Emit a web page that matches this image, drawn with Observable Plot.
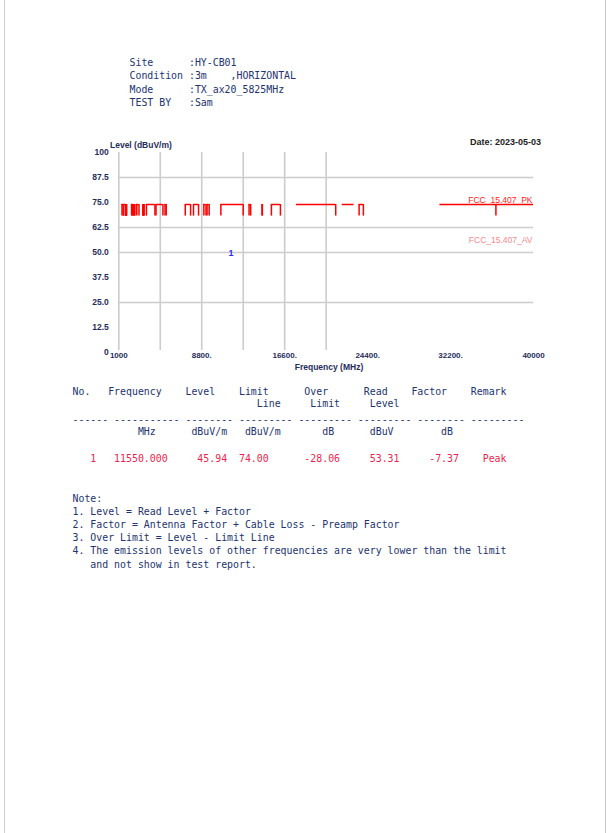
<!DOCTYPE html>
<html>
<head>
<meta charset="utf-8">
<script src="https://cdn.jsdelivr.net/npm/d3@7"></script>
<script src="https://cdn.jsdelivr.net/npm/@observablehq/plot@0.6"></script>
<style>
  html, body { margin: 0; padding: 0; background: #fff; }
  #page { position: relative; width: 614px; height: 833px; overflow: hidden; background: #fff; }
  .frameL { position: absolute; left: 4px; top: 0; width: 1px; height: 833px; background: #cfcfcf; }
  .frameR { position: absolute; left: 605px; top: 0; width: 1px; height: 833px; background: #c8c8c8; }
  .mono { position: absolute; font-family: "DejaVu Sans Mono", "Liberation Mono", monospace; font-size: 9.9px; white-space: pre; color: #22336e; margin: 0; }
  .lab { position: absolute; font-family: "Liberation Sans", Arial, sans-serif; font-weight: bold; white-space: nowrap; line-height: 10px; }
  #chart { position: absolute; left: 0; top: 130px; }
</style>
</head>
<body>
<div id="page">
  <div class="frameL"></div>
  <div class="frameR"></div>
  <div id="header"></div>
  <div id="chart"></div>
  <div class="lab" id="ylab" style="left:110px; top:140px; font-size:8.5px; color:#1f2d5c;"></div>
  <div class="lab" id="datelab" style="right:73px; top:137px; font-size:9px; color:#222;"></div>
  <div class="lab" id="xlab" style="left:290px; top:361.5px; width:78px; text-align:center; font-size:8.5px; color:#1f2d5c;"></div>
  <div id="table"></div>
  <div id="notes"></div>
</div>
<script>
// ---------- data ----------
const headerKeys = ["Site", "Condition", "Mode", "TEST BY"];
const headerValues = ["HY-CB01", "3m    ,HORIZONTAL", "TX_ax20_5825MHz", "Sam"];

const yTicks = [0, 12.5, 25, 37.5, 50, 62.5, 75, 87.5, 100];
const yTickLabels = ["0", "12.5", "25.0", "37.5", "50.0", "62.5", "75.0", "87.5", "100"];
const xTicks = [1000, 8800, 16600, 24400, 32200, 40000];
const xTickLabels = ["1000", "8800.", "16600.", "24400.", "32200.", "40000"];
const gridX = [1000, 4900, 8800, 12700, 16600, 20500];
const gridY = [87.5, 62.5, 50, 25];

const yTitle = "Level (dBuV/m)";
const xTitle = "Frequency (MHz)";
const dateText = "Date: 2023-05-03";

const peakLimit = 74;
const stepLimit = 68.2;
const avLimitLabelLevel = 54;
const limitSegments = [
  [1300, 1427], [1435, 1626.5], [1645.5, 1646.5], [1660, 1710], [1718.8, 1722.2],
  [2200, 2300], [2310, 2390], [2483.5, 2500], [2690, 2900], [3260, 3267],
  [3332, 3339], [3345.8, 3358], [3600, 4400], [4500, 5150], [5350, 5460],
  [7250, 7750], [8025, 8500], [9000, 9200], [9300, 9500], [10600, 12700],
  [13250, 13400], [14470, 14500], [15350, 16200], [17700, 21400], [22010, 23120],
  [23600, 24000], [31200, 40000]
];
const limitDrops = [
  1300, 1427, 1435, 1626.5, 1645.5, 1646.5, 1660, 1710, 1718.8, 1722.2,
  2200, 2300, 2310, 2390, 2483.5, 2500, 2690, 2900, 3260, 3267,
  3332, 3339, 3345.8, 3358, 3600, 4400, 4500, 5150, 5350, 5460,
  7250, 7750, 8025, 8500, 9000, 9200, 9300, 9500, 10600, 12700,
  13250, 13400, 14470, 14500, 15350, 16200, 21400, 23600, 24000, 36465
];
const limitNames = ["FCC_15.407_PK", "FCC_15.407_AV"];

const markerNo = [1];
const markerFreq = [11550];
const markerLevel = [45.94];

const tableHead1 = ["No.", "Frequency", "Level", "Limit", "Over", "Read", "Factor", "Remark"];
const tableHead2 = ["Line", "Limit", "Level"];
const tableUnits = ["MHz", "dBuV/m", "dBuV/m", "dB", "dBuV", "dB"];
const rowValues = ["1", "11550.000", "45.94", "74.00", "-28.06", "53.31", "-7.37", "Peak"];
const dashWidths = [6, 11, 8, 9, 9, 9, 8, 9];

const noteLines = [
  "Note:",
  "1. Level = Read Level + Factor",
  "2. Factor = Antenna Factor + Cable Loss - Preamp Factor",
  "3. Over Limit = Level - Limit Line",
  "4. The emission levels of other frequencies are very lower than the limit",
  "   and not show in test report."
];

// ---------- layout helpers ----------
function placeCols(items, cols) {
  let s = "";
  items.forEach((t, i) => {
    const c = cols[i];
    if (s.length < c) s += " ".repeat(c - s.length);
    s += t;
  });
  return s;
}
function addLine(parent, text, left, baseline, color) {
  const d = document.createElement("div");
  d.className = "mono";
  d.style.left = left + "px";
  d.style.top = (baseline - 9.4) + "px";
  d.style.lineHeight = "12px";
  if (color) d.style.color = color;
  d.textContent = text;
  parent.appendChild(d);
}

// header block
const header = document.getElementById("header");
headerKeys.forEach((k, i) => {
  addLine(header, k.padEnd(10, " ") + ":" + headerValues[i], 129.5, 66.7 + 13.1 * i);
});

// table
const table = document.getElementById("table");
addLine(table, placeCols(tableHead1, [0, 6, 19, 28, 39, 49, 57, 67]), 72.5, 395);
addLine(table, placeCols(tableHead2, [31, 40, 50]), 72.5, 407);
addLine(table, dashWidths.map(w => "-".repeat(w)).join(" "), 72.5, 423);
addLine(table, placeCols(tableUnits, [11, 20, 29, 42, 50, 62]), 72.5, 435);
addLine(table, placeCols(rowValues, [3, 7, 21, 28, 39, 50, 60, 69]), 72.5, 462, "#ec1f4f");

// notes
const notes = document.getElementById("notes");
noteLines.forEach((t, i) => addLine(notes, t, 72.5, 502 + 13.2 * i));

document.getElementById("ylab").textContent = yTitle;
document.getElementById("xlab").textContent = xTitle;
document.getElementById("datelab").textContent = dateText;

// ---------- chart ----------
const markers = markerNo.map((n, i) => ({no: String(n), freq: markerFreq[i], level: markerLevel[i]}));
const limitLabels = [
  {name: limitNames[0], level: peakLimit, color: "#ff1a1a"},
  {name: limitNames[1], level: avLimitLabelLevel, color: "#f38a8a"}
];

const chart = Plot.plot({
  width: 560,
  height: 240,
  marginLeft: 118.3,
  marginRight: 27,
  marginTop: 22,
  marginBottom: 18,
  x: {domain: [1000, 40000]},
  y: {domain: [0, 100]},
  style: {background: "transparent", fontFamily: "Liberation Sans, Arial, sans-serif", fontSize: "8.5px", fontWeight: "bold", color: "#1f2d5c", overflow: "visible"},
  marks: [
    Plot.ruleX(gridX, {x: d => d, y1: 1, y2: 100, stroke: "#cccccc", strokeWidth: 1.6}),
    Plot.ruleY(gridY, {y: d => d, stroke: "#cccccc", strokeWidth: 1.6}),
    Plot.ruleY(limitSegments, {y: peakLimit, x1: d => d[0], x2: d => d[1], stroke: "#ff0000", strokeWidth: 1.5}),
    Plot.ruleX(limitDrops, {x: d => d, y1: stepLimit, y2: peakLimit, stroke: "#ff0000", strokeWidth: 1.5}),
    Plot.text(limitLabels, {x: 40000, y: "level", text: "name", fill: "color", textAnchor: "end", lineAnchor: "bottom", dy: -2, dx: -1, fontWeight: "normal", fontSize: 8.5}),
    Plot.text(markers, {x: "freq", y: "level", text: "no", fill: "#2a2aff", dy: -8, fontWeight: "bold", fontSize: 9}),
    Plot.axisY(yTicks, {tickFormat: d => yTickLabels[yTicks.indexOf(d)], tickSize: 0, tickPadding: 10, label: null}),
    Plot.axisX(xTicks, {tickFormat: d => xTickLabels[xTicks.indexOf(d)], tickSize: 0, tickPadding: 0, fontSize: 8, label: null})
  ]
});
document.getElementById("chart").appendChild(chart);
</script>
</body>
</html>
